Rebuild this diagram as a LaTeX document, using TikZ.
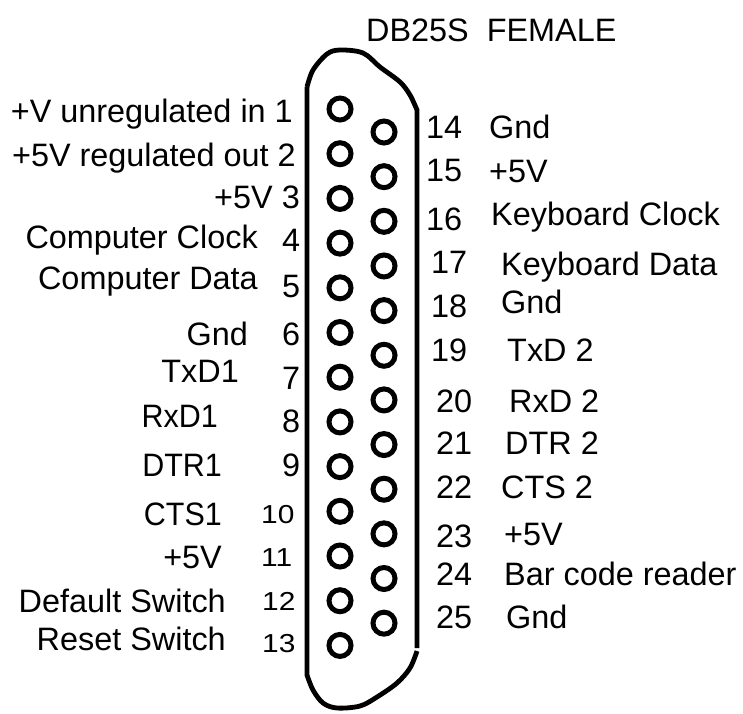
\documentclass[tikz,border=0pt]{standalone}
\usepackage{fontspec}
\setmainfont{Liberation Sans}
\newcommand{\widedigits}[1]{\scalebox{1.15}[1]{#1}}
\newcommand{\narrowlabel}[1]{\scalebox{0.94}[1]{#1}}
\tikzset{
 x=1pt,y=-1pt,
 pin/.style={circle,draw=black,line width=5pt,minimum size=22pt,inner sep=0pt},
 lab/.style={anchor=base west,inner sep=0pt,font=\fontsize{32.4}{36}\selectfont},
 labr/.style={anchor=base east,inner sep=0pt,font=\fontsize{32.4}{36}\selectfont},
 small/.style={lab,font=\fontsize{26}{30}\selectfont},
 shell/.style={line width=4.8pt,line join=round}
}
\begin{document}
\begin{tikzpicture}
\useasboundingbox (0,0) rectangle (743,713);
\foreach \i in {1,...,13} \node[pin] (p\i) at (340,{109+(\i-1)*44.7}) {};
\foreach \i in {14,...,25} \node[pin] (p\i) at (384,{132+(\i-14)*44.65}) {};
\draw[shell] plot[smooth,tension=0.55] coordinates {(307,87) (313,70) (327,54) (340,50) (363,53) (380,67) (400,82) (410,95) (417,110)} -- (417,648);
\draw[shell] plot[smooth,tension=0.55] coordinates {(417,651) (410,668) (397,683) (377,697) (360,706) (337,708) (323,703) (313,690) (307,675)} -- (307,87);
\node[lab] (title) at (366,41) {DB25S\ \ FEMALE};
\node[labr] (l1) at (293,122) {+V unregulated in 1};
\node[labr] (l2) at (296,166) {+5V regulated out 2};
\node[labr] (l3) at (300,208) {+5V 3};
\node[labr] (l4) at (258,248) {Computer Clock};
\node[lab] (n4) at (282,251) {4};
\node[labr] (l5) at (258,289) {Computer Data};
\node[lab] (n5) at (282,297) {5};
\node[labr] (l6) at (248,345) {Gnd};
\node[lab] (n6) at (282,345) {6};
\node[labr] (l7) at (239,382) {TxD1};
\node[lab] (n7) at (282,389) {7};
\node[labr] (l8) at (218,427) {\narrowlabel{RxD1}};
\node[lab] (n8) at (282,432) {8};
\node[labr] (l9) at (222,476) {\narrowlabel{DTR1}};
\node[lab] (n9) at (282,476) {9};
\node[labr] (l10) at (222,525) {\narrowlabel{CTS1}};
\node[small] (n10) at (261,523) {\widedigits{10}};
\node[labr] (l11) at (222,568) {+5V};
\node[small] (n11) at (261,566) {\widedigits{11}};
\node[labr] (l12) at (226,612) {Default Switch};
\node[small] (n12) at (262,610) {\widedigits{12}};
\node[labr] (l13) at (226,650) {Reset Switch};
\node[small] (n13) at (262,652) {\widedigits{13}};
\node[lab] (n14) at (426,138) {14};
\node[lab] (r14) at (489,138) {Gnd};
\node[lab] (n15) at (426,181) {15};
\node[lab] (r15) at (489,182) {+5V};
\node[lab] (n16) at (426,230) {16};
\node[lab] (r16) at (491,225) {Keyboard Clock};
\node[lab] (n17) at (431,273) {17};
\node[lab] (r17) at (501,275) {Keyboard Data};
\node[lab] (n18) at (431,317) {18};
\node[lab] (r18) at (501,313) {Gnd};
\node[lab] (n19) at (431,361) {19};
\node[lab] (r19) at (507,361) {TxD 2};
\node[lab] (n20) at (436,412) {20};
\node[lab] (r20) at (509,412) {RxD 2};
\node[lab] (n21) at (436,454) {21};
\node[lab] (r21) at (505,454) {DTR 2};
\node[lab] (n22) at (436,498) {22};
\node[lab] (r22) at (501,498) {CTS 2};
\node[lab] (n23) at (436,547) {23};
\node[lab] (r23) at (504,545) {+5V};
\node[lab] (n24) at (436,585) {24};
\node[lab] (r24) at (504,585) {Bar code reader};
\node[lab] (n25) at (436,628) {25};
\node[lab] (r25) at (506,628) {Gnd};
\end{tikzpicture}
\end{document}
